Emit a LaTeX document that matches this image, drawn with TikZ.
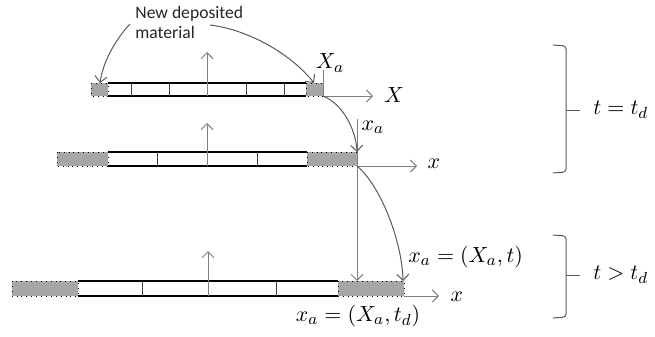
\documentclass[tikz,border=0pt]{standalone}
\usepackage{fontspec}
\newfontfamily\calfont{Carlito}
\usetikzlibrary{arrows.meta}
\definecolor{cellgray}{HTML}{A6A6A6}
\definecolor{axgray}{HTML}{7F7F7F}
\definecolor{curvegray}{HTML}{595959}
\definecolor{divgray}{HTML}{404040}
\begin{document}
\begin{tikzpicture}[x=0.5pt,y=-0.5pt,
  graycell/.style={fill=cellgray, draw=black, dotted, line width=0.45pt},
  barline/.style={draw=black, line width=0.55pt},
  divider/.style={draw=divgray, line width=0.45pt},
  tip/.style={-{Straight Barb[length=3pt,width=6pt]}},
  axis/.style={draw=axgray, line width=0.5pt, tip},
  axisplain/.style={draw=axgray, line width=0.5pt},
  curve/.style={draw=curvegray, line width=0.5pt, tip},
  brace/.style={draw=curvegray, line width=0.5pt, rounded corners=1.5pt},
  lbl/.style={font=\fontsize{11.4}{13}\selectfont, inner sep=0pt},
  txt/.style={font=\calfont\fontsize{8.8}{10}\selectfont, inner sep=0pt, align=left, text=black!85}
]
\useasboundingbox (0,0) rectangle (655,337);

% ---------- top bar ----------
\draw[graycell] (91,83) rectangle (108,96);
\draw[graycell] (306,83) rectangle (323,96);
\draw[barline] (108,83) -- (306,83) (108,96) -- (306,96);
\foreach \x in {131,169,207,246,284} \draw[divider] (\x,83) -- (\x,96);
\coordinate (tL) at (100,83);
\coordinate (tRtop) at (314,83);
\coordinate (tO) at (323,96);
\coordinate (tUp) at (207,52);
\coordinate (tUb) at (207,96);
\coordinate (tXe) at (373,96);
\coordinate (tXa) at (323,70);
\draw[axis] (tUb) -- (tUp);
\draw[axis] (tO) -- (tXe);
\draw[axisplain] (tO) -- (tXa);
\node[lbl] (lXa) at (330,63) {$X_a$};
\node[lbl] (lX) at (394,95) {$X$};

% ---------- middle bar ----------
\draw[graycell] (57,152) rectangle (108,166);
\draw[graycell] (307,152) rectangle (357,166);
\draw[barline] (108,152) -- (307,152) (108,166) -- (307,166);
\foreach \x in {157,207,257} \draw[divider] (\x,152) -- (\x,166);
\coordinate (mRt) at (357,152);
\coordinate (mO) at (357,166);
\coordinate (mUb) at (207,166);
\coordinate (mUp) at (207,123);
\coordinate (mXe) at (417,166);
\coordinate (mXa) at (357,119);
\draw[axis] (mUb) -- (mUp);
\draw[axis] (mO) -- (mXe);
\node[lbl] (lxa) at (373,127) {$x_a$};
\node[lbl] (lx) at (434,164) {$x$};

% ---------- bottom bar ----------
\draw[graycell] (12,281) rectangle (78,296);
\draw[graycell] (338,281) rectangle (404,296);
\draw[barline] (78,281) -- (338,281) (78,296) -- (338,296);
\foreach \x in {142,208,276} \draw[divider] (\x,281) -- (\x,296);
\coordinate (bMid) at (357,281);
\coordinate (bRt) at (403,281);
\coordinate (bO) at (404,296);
\coordinate (bUb) at (208,296);
\coordinate (bUp) at (208,251);
\coordinate (bXe) at (439,296);
\draw[axis] (bUb) -- (bUp);
\draw[axis] (bO) -- (bXe);
\node[lbl] (lxb) at (457,297) {$x$};
\node[lbl, anchor=west] (lxat) at (408,257) {$x_a=(X_a,t)$};
\node[lbl] (lxatd) at (358,316) {$x_a=(X_a,t_d)$};

% ---------- connectors ----------
\draw[axis] (mXa) -- (bMid);
\draw[curve] (tO) .. controls (343,104) and (356,130) .. (mRt);
\draw[curve] (mO) .. controls (380,185) and (402,240) .. (bRt);

% ---------- label ----------
\node[txt, anchor=west] (note) at (135,22) {New deposited\\material};
\coordinate (n1) at (130,24);
\coordinate (n2) at (210,25);
\draw[curve] (n1) .. controls (115,40) and (103,62) .. (tL);
\draw[curve] (n2) .. controls (250,30) and (292,55) .. (tRtop);

% ---------- braces ----------
\draw[brace] (553,45) -- (566,46) -- (566,172) -- (553,173);
\draw[brace] (566,110) -- (580,110);
\node[lbl, anchor=west] (teq) at (593,110) {$t=t_d$};
\draw[brace] (553,235) -- (566,236) -- (566,317) -- (553,318);
\draw[brace] (566,275) -- (580,275);
\node[lbl, anchor=west] (tgt) at (593,275) {$t>t_d$};
\end{tikzpicture}
\end{document}
